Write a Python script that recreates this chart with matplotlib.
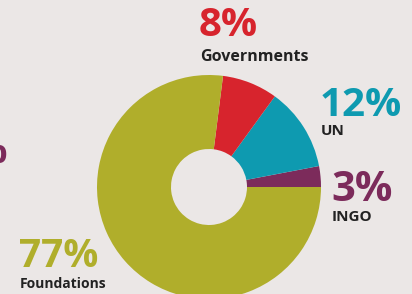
import matplotlib.pyplot as plt

# veriler
kategoriler = ["INGO", "UN", "Governments", "Foundations"]
yuzdeler = [3, 12, 8, 77]
renkler = ["#7c2b5b", "#0e9ab0", "#d7242d", "#b0ae2b"]
etiketler = ["3%", "12%", "8%", "77%"]

arka_plan = "#ebe7e6"
W, H = 412, 294

fig = plt.figure(figsize=(W / 100, H / 100), dpi=100, facecolor=arka_plan)
ax = fig.add_axes([0, 0, 1, 1])
ax.set_facecolor(arka_plan)

# halka grafik (piksel koordinatlarında)
ax.pie(yuzdeler, colors=renkler, center=(209, H - 187), radius=112,
       startangle=0, counterclock=True,
       wedgeprops=dict(width=74, linewidth=0))
ax.set_xlim(0, W)
ax.set_ylim(0, H)
ax.set_aspect("equal")
ax.axis("off")

font = "Open Sans"
koyu = "#222222"
# (x, yüzde taban y, yüzde boyutu, isim taban y, isim boyutu)
konumlar = {
    "Governments": (199, 36, 29, 61, 11.5),
    "UN": (320, 116, 29, 135, 11),
    "INGO": (331, 201, 30, 221, 11),
    "Foundations": (19, 267, 28, 288, 10),
}
for kat, etiket, renk in zip(kategoriler, etiketler, renkler):
    x, y_yuzde, boyut, y_isim, isim_boyut = konumlar[kat]
    ax.text(x, H - y_yuzde, etiket, color=renk, fontsize=boyut, fontweight="bold",
            family=font, ha="left", va="baseline")
    ax.text(x + 1, H - y_isim, kat, color=koyu, fontsize=isim_boyut, fontweight="bold",
            family=font, ha="left", va="baseline")

# sol kenarda kesilmiş başka bir yazı
ax.text(7, H - 163, "%", color="#7c2b5b", fontsize=30, fontweight="bold",
        family=font, ha="right", va="baseline")

fig.savefig("out.png", dpi=100, facecolor=arka_plan)
